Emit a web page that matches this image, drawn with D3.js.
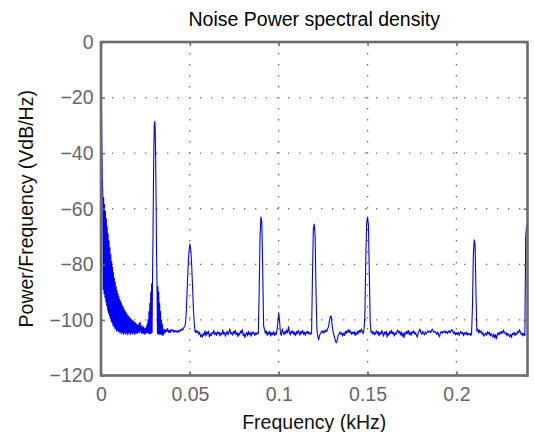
<!DOCTYPE html>
<html lang="en">
<head>
<meta charset="utf-8">
<title>Noise Power spectral density</title>
<script src="https://cdn.jsdelivr.net/npm/d3@7"></script>
<style>
  body { margin: 0; background: #fff; }
  text { font-family: "Liberation Sans", Arial, sans-serif; }
</style>
</head>
<body>
<div id="chart"></div>
<script>
// low-frequency part, one sample every 0.00025 kHz from 0 (8 per row = 0.002 kHz)
let lowStep = 0.00025
let lowDb = [
  0, -20, -38, -50, -54, -89, -56, -90.5,
  -58.5, -92, -61, -93.5, -63.5, -95, -66.5, -96.5,
  -69, -97.5, -71.5, -98.5, -74, -99.5, -76.5, -100.5,
  -79, -101, -81, -102, -83, -102.3, -85, -103,
  -86.5, -103.2, -88, -104, -89.3, -103.6, -90.5, -104.3,
  -91.5, -104, -92.5, -104.8, -93.3, -104.2, -94, -105,
  -94.8, -104.5, -95.5, -105.2, -96.2, -104.4, -96.8, -105,
  -97.3, -104.6, -97.8, -105.3, -98.3, -104.5, -98.7, -105.1,
  -99.1, -104.4, -99.5, -105.2, -99.8, -104.6, -100.1, -105,
  -100.4, -104.3, -100.7, -105.2, -100.9, -104.6, -101.2, -105,
  -101.5, -104.5, -102, -104.8, -101.8, -104.2, -101.2, -104.6,
  -100.8, -103.8, -102.3, -104.9, -102, -104.5, -102.8, -105,
  -102.5, -104.7, -103.2, -105.2, -103, -104.8, -102.5, -104.6,
  -101.5, -104.5, -100, -104.8, -97, -104.9, -94, -105,
  -90, -104.7, -87, -104.5, -85, -70, -52, -38,
  -30, -28.5, -31, -42, -57, -75, -87, -104.8,
  -88, -105.2, -90, -105, -94, -105.3, -97, -104.9,
  -100, -105.4, -101.5, -105.2
]

// rest of the spectrum, one sample every 0.0005 kHz from 0.035 (10 per row = 0.005 kHz)
let mainStart = 0.035
let mainStep = 0.0005
let mainDb = [
  -105.5, -103.2, -104.8, -103.5, -104.2, -103, -104.5, -103.8, -104.6, -103.4,
  -104, -103.6, -104.5, -103.7, -104.2, -103.9, -104.6, -103.8, -104.3, -103.5,
  -104, -103.2, -103.6, -102.8, -102.5, -101.5, -97, -89, -81, -75.5,
  -72.7, -74.5, -80, -88, -96, -101.5, -104.5, -103.8, -104.6, -104,
  -105.2, -104.4, -106, -105.4, -106.3, -104.8, -105.5, -103.9, -105.8, -104.3,
  -105.1, -104, -106.1, -105, -105.7, -104.5, -104.9, -103.8, -105.3, -104.6,
  -105.6, -104.2, -105, -104.4, -105.8, -104.7, -105.2, -103.6, -105.1, -104.5,
  -105.9, -104.8, -104.1, -105.4, -104.3, -103.2, -105, -104.6, -105.5, -104.2,
  -104.9, -103.7, -105.3, -104.5, -106, -104.8, -105.4, -104, -104.7, -103.4,
  -105.6, -104.9, -106.4, -105.2, -104.5, -105.8, -104.1, -105.3, -104.6, -105.9,
  -104.3, -105, -104.4, -105.6, -104.7, -105.2, -104.5, -105, -90, -70,
  -63, -65, -82, -102, -103.5, -104.8, -103.9, -105.6, -104.4, -105.2,
  -104, -105.8, -104.6, -105.3, -104.2, -105.6, -104.5, -105.4, -103.8, -101,
  -97.4, -100.5, -104.8, -105.6, -103.2, -104.5, -105.4, -104.1, -104.9, -103.6,
  -104.7, -102.4, -104.3, -105.5, -104, -104.8, -103.9, -105.3, -104.5, -105.7,
  -104.2, -105, -103.7, -104.6, -105.5, -104.1, -104.9, -103.8, -105.2, -104.4,
  -105.6, -104.3, -104.9, -104, -105.1, -104.5, -105.2, -104.7, -84, -67,
  -65.5, -70, -90, -103.5, -106, -107.2, -105.5, -105, -104.2, -104,
  -104.8, -103.9, -104.5, -103.6, -104.2, -103.2, -102.5, -100.5, -98.8, -98.6,
  -101.5, -104, -105.3, -106.5, -107.8, -108.2, -107, -105.5, -105, -104.3,
  -105.2, -104.6, -105.8, -104.8, -105.6, -104.1, -104.9, -103.8, -104.5, -103.4,
  -104.6, -104, -105.2, -104.4, -105, -104.2, -105.6, -104.5, -105.3, -104,
  -104.8, -103.7, -104.4, -103.2, -104.1, -104.9, -103.5, -98, -78, -65,
  -63, -66, -84, -101, -104.5, -104, -105.1, -104.3, -105.4, -104.6,
  -103.9, -105, -104.2, -105.7, -104.5, -105.2, -103.8, -104.7, -105.9, -104.3,
  -105.1, -104, -106.2, -104.8, -105.5, -104.1, -104.9, -103.7, -105, -104.4,
  -105.8, -104.6, -105.3, -104.2, -103.6, -104.7, -104.1, -105.4, -104.3, -105.9,
  -104.8, -106.4, -104.5, -105.2, -104, -104.9, -103.8, -105.3, -104.4, -105.6,
  -104.2, -104.8, -103.9, -105.1, -104.6, -105.5, -106.2, -104.7, -104, -103.3,
  -104.5, -105.2, -104.1, -104.8, -105.4, -104.3, -105, -104.5, -103.9, -104.4,
  -104, -104.6, -103.7, -103.3, -104.2, -104.5, -104.1, -104.6, -105.3, -104.4,
  -105.5, -106.1, -104.6, -104.2, -104.8, -104.1, -104.5, -103.9, -104.7, -104.2,
  -104.9, -104.3, -103.8, -104.6, -104, -103.4, -104.2, -104.9, -104.3, -105.4,
  -104.6, -105.2, -104.4, -105.6, -104.8, -104.1, -105, -104.5, -105.7, -104.6,
  -105.1, -104.3, -105.5, -104.7, -105.3, -104.8, -105.6, -105.2, -96, -77,
  -71.2, -73, -90, -104, -103.3, -104.8, -103.6, -104.5, -104, -105.2,
  -104.6, -105.9, -105.3, -104.7, -105.5, -104.2, -105, -104.4, -105.8, -104.9,
  -105.4, -106.2, -105.1, -106.5, -105.3, -106.8, -105.2, -104.6, -105.4, -104.3,
  -105, -104.1, -104.8, -103.6, -104.4, -105.1, -104.6, -105.7, -104.9, -105.5,
  -106.1, -105.2, -106.4, -104.8, -105.3, -104.5, -105.6, -104.7, -105.2, -104.1,
  -104.6, -103.5, -104.4, -105.3, -104.7, -105.8, -104.9, -105.6, -70, -66,
  -65.8
]

let xTicks = [0, 0.05, 0.1, 0.15, 0.2]
let xTickLabels = ["0", "0.05", "0.1", "0.15", "0.2"]
let yTicks = [0, -20, -40, -60, -80, -100, -120]
let yTickLabels = ["0", "\u221220", "\u221240", "\u221260", "\u221280", "\u2212100", "\u2212120"]
let xDomain = [0, 0.24]
let yDomain = [-120, 0]

let titleText = "Noise Power spectral density"
let xLabelText = "Frequency (kHz)"
let yLabelText = "Power/Frequency (VdB/Hz)"

let w = 534
let h = 432
let plotLeft = 101, plotRight = 527.5, plotTop = 42, plotBottom = 375.5
let axisColor = "#6b6b6b"
let fontSize = "19.5px"

let data = lowDb.map(function(v, i) { return { f: i * lowStep, db: v }; })
                .concat(mainDb.map(function(v, i) { return { f: mainStart + i * mainStep, db: v }; }))

let xScale = d3.scaleLinear().domain(xDomain).range([plotLeft, plotRight])
let yScale = d3.scaleLinear().domain(yDomain).range([plotBottom, plotTop])

let svg = d3.select("#chart")
            .append("svg")
            .attr("width", w)
            .attr("height", h)

// dotted grid
svg.append("g")
   .selectAll("line")
   .data(xTicks.filter(function(d) { return d > xDomain[0] && d < xDomain[1]; }))
   .enter().append("line")
   .attr("x1", function(d) { return xScale(d); })
   .attr("x2", function(d) { return xScale(d); })
   .attr("y1", plotTop)
   .attr("y2", plotBottom)
   .attr("stroke", "#707070")
   .attr("stroke-width", 1.3)
   .attr("stroke-dasharray", "1.4 9.6")

svg.append("g")
   .selectAll("line")
   .data(yTicks.filter(function(d) { return d > yDomain[0] && d < yDomain[1]; }))
   .enter().append("line")
   .attr("y1", function(d) { return yScale(d); })
   .attr("y2", function(d) { return yScale(d); })
   .attr("x1", plotLeft)
   .attr("x2", plotRight)
   .attr("stroke", "#707070")
   .attr("stroke-width", 1.3)
   .attr("stroke-dasharray", "1.4 9.6")

svg.append("clipPath")
   .attr("id", "plotclip")
   .append("rect")
   .attr("x", plotLeft)
   .attr("y", plotTop - 1)
   .attr("width", plotRight - plotLeft)
   .attr("height", plotBottom - plotTop + 2)

let line = d3.line()
             .x(function(d) { return xScale(d.f); })
             .y(function(d) { return yScale(d.db); })

svg.append("path")
   .datum(data)
   .attr("clip-path", "url(#plotclip)")
   .attr("d", line)
   .attr("fill", "none")
   .attr("stroke", "#0000ff")
   .attr("stroke-width", 1.1)
   .attr("stroke-linejoin", "round")

// axes with inward ticks
let xAxis = d3.axisBottom(xScale)
              .tickValues(xTicks)
              .tickFormat(function(d, i) { return xTickLabels[i]; })
              .tickSize(-4)
              .tickPadding(12)

let yAxis = d3.axisLeft(yScale)
              .tickValues(yTicks)
              .tickFormat(function(d, i) { return yTickLabels[i]; })
              .tickSize(-4)
              .tickPadding(7.5)

let gx = svg.append("g")
            .attr("transform", "translate(0," + plotBottom + ")")
            .call(xAxis)

let gy = svg.append("g")
            .attr("transform", "translate(" + plotLeft + ",0)")
            .call(yAxis)

let gxTop = svg.append("g")
               .attr("transform", "translate(0," + plotTop + ")")
               .call(d3.axisTop(xScale).tickValues(xTicks).tickSize(-4).tickFormat(""))

let gyRight = svg.append("g")
                 .attr("transform", "translate(" + plotRight + ",0)")
                 .call(d3.axisRight(yScale).tickValues(yTicks).tickSize(-4).tickFormat(""))

;[gx, gy, gxTop, gyRight].forEach(function(g) {
  g.select(".domain").remove()
  g.selectAll(".tick line").attr("stroke", axisColor).attr("stroke-width", 1.5)
  g.selectAll(".tick text")
   .attr("fill", "#666666")
   .style("font-size", fontSize)
   .style("font-family", "'Liberation Sans', Arial, sans-serif")
})

// box
svg.append("rect")
   .attr("x", plotLeft)
   .attr("y", plotTop)
   .attr("width", plotRight - plotLeft)
   .attr("height", plotBottom - plotTop)
   .attr("fill", "none")
   .attr("stroke", axisColor)
   .attr("stroke-width", 2.6)

svg.append("text")
   .attr("x", (plotLeft + plotRight) / 2)
   .attr("y", 26)
   .attr("text-anchor", "middle")
   .attr("fill", "#000")
   .style("font-size", fontSize)
   .text(titleText)

svg.append("text")
   .attr("x", (plotLeft + plotRight) / 2)
   .attr("y", 428.5)
   .attr("text-anchor", "middle")
   .attr("fill", "#111")
   .style("font-size", fontSize)
   .text(xLabelText)

svg.append("text")
   .attr("transform", "translate(33," + ((plotTop + plotBottom) / 2) + ") rotate(-90)")
   .attr("text-anchor", "middle")
   .attr("fill", "#111")
   .style("font-size", fontSize)
   .text(yLabelText)
</script>
</body>
</html>
